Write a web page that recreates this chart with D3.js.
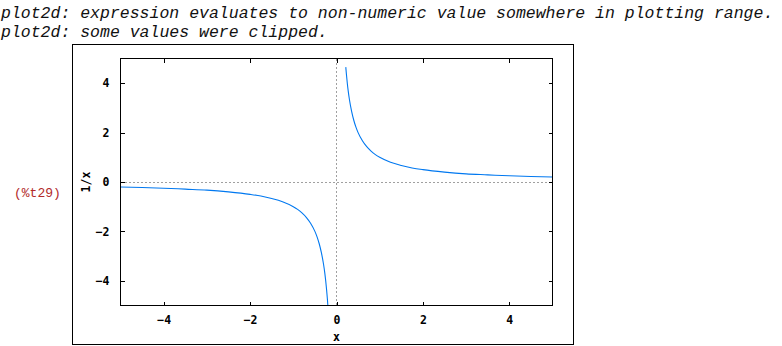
<!DOCTYPE html>
<html>
<head>
<meta charset="utf-8">
<script src="https://cdn.jsdelivr.net/npm/d3@7"></script>
<style>
  body { margin: 0; background: #fff; }
  svg { display: block; }
</style>
</head>
<body>
<div class="chart"></div>
<script>
// sizes
var width = 782;
var height = 346;

// messages shown above the plot
var messages = [
  "plot2d: expression evaluates to non-numeric value somewhere in plotting range.",
  "plot2d: some values were clipped."
];
var cellLabel = "(%t29)";

// axis ticks
var xTicks = [-4, -2, 0, 2, 4];
var yTicks = [-4, -2, 0, 2, 4];

// points, left branch (x < 0)
var leftX = [-5, -4.5, -4, -3.5, -3, -2.5, -2, -1.75, -1.5, -1.25, -1, -0.9, -0.8, -0.7, -0.6, -0.5, -0.45, -0.4, -0.35, -0.3, -0.27, -0.25, -0.23, -0.21, -0.2];
var leftY = [-0.2, -0.22, -0.25, -0.29, -0.33, -0.4, -0.5, -0.57, -0.67, -0.8, -1, -1.11, -1.25, -1.43, -1.67, -2, -2.22, -2.5, -2.86, -3.33, -3.7, -4, -4.35, -4.76, -5];

// right branch (x > 0)
var rightX = [0.215, 0.23, 0.25, 0.27, 0.3, 0.35, 0.4, 0.45, 0.5, 0.6, 0.7, 0.8, 0.9, 1, 1.25, 1.5, 1.75, 2, 2.5, 3, 3.5, 4, 4.5, 5];
var rightY = [4.65, 4.35, 4, 3.7, 3.33, 2.86, 2.5, 2.22, 2, 1.67, 1.43, 1.25, 1.11, 1, 0.8, 0.67, 0.57, 0.5, 0.4, 0.33, 0.29, 0.25, 0.22, 0.2];

var monoFont = "'DejaVu Sans Mono', monospace";

var svg = d3.select(".chart")
            .append("svg")
            .attr("width", width)
            .attr("height", height);

// top messages
svg.selectAll("text.msg")
   .data(messages)
   .enter()
   .append("text")
   .attr("class", "msg")
   .attr("x", 1)
   .attr("y", (d, i) => 18 + i * 19)
   .style("font-family", "'Liberation Mono', 'Courier New', monospace")
   .style("font-style", "italic")
   .style("font-size", "16.5px")
   .style("fill", "#111")
   .text(d => d);

svg.append("text")
   .attr("x", 14)
   .attr("y", 197)
   .style("font-family", "'Liberation Mono', 'Courier New', monospace")
   .style("font-size", "13px")
   .style("fill", "#b22a2a")
   .text(cellLabel);

// outer frame of the image
svg.append("rect")
   .attr("x", 72.5)
   .attr("y", 44.5)
   .attr("width", 501)
   .attr("height", 300)
   .attr("fill", "none")
   .attr("stroke", "#000")
   .attr("shape-rendering", "crispEdges");

// plot area (names avoid window.top)
var pLeft = 120.5, pRight = 552.5, pTop = 58.5, pBottom = 305.5;

var xScale = d3.scaleLinear().domain([-5, 5]).range([pLeft, pRight]);
var yScale = d3.scaleLinear().domain([-5, 5]).range([pBottom, pTop]);

var g = svg.append("g");

// zero lines
g.append("line")
 .attr("x1", xScale(0)).attr("x2", xScale(0))
 .attr("y1", pTop).attr("y2", pBottom)
 .attr("stroke", "#a0a0a0")
 .attr("stroke-dasharray", "2,2")
 .attr("shape-rendering", "crispEdges");
g.append("line")
 .attr("x1", pLeft).attr("x2", pRight)
 .attr("y1", yScale(0)).attr("y2", yScale(0))
 .attr("stroke", "#a0a0a0")
 .attr("stroke-dasharray", "2,2")
 .attr("shape-rendering", "crispEdges");

// curve
var line = d3.line()
             .x(d => xScale(d[0]))
             .y(d => yScale(d[1]))
             .curve(d3.curveMonotoneX);

var branches = [
  leftX.map((x, i) => [x, leftY[i]]),
  rightX.map((x, i) => [x, rightY[i]])
];

g.selectAll("path.curve")
 .data(branches)
 .enter()
 .append("path")
 .attr("class", "curve")
 .attr("d", line)
 .attr("fill", "none")
 .attr("stroke", "#0078f0")
 .attr("stroke-width", 1.1);

// axes, ticks inward on all four sides
var tickStyle = function(sel) {
  sel.select(".domain").remove();
  sel.selectAll(".tick line").attr("stroke", "#000").attr("shape-rendering", "crispEdges");
  sel.selectAll(".tick text")
     .style("font-family", monoFont)
     .style("font-weight", "bold")
     .style("font-size", "11.5px")
     .style("fill", "#000");
};

svg.append("g")
   .attr("id", "x-axis")
   .attr("transform", "translate(0," + pBottom + ")")
   .call(d3.axisBottom(xScale).tickValues(xTicks).tickSizeInner(-4).tickPadding(10).tickFormat(d3.format("d")))
   .call(tickStyle);

svg.append("g")
   .attr("transform", "translate(0," + pTop + ")")
   .call(d3.axisTop(xScale).tickValues(xTicks).tickSizeInner(-4).tickFormat(""))
   .call(tickStyle);

svg.append("g")
   .attr("id", "y-axis")
   .attr("transform", "translate(" + pLeft + ",0)")
   .call(d3.axisLeft(yScale).tickValues(yTicks).tickSizeInner(-4).tickPadding(11).tickFormat(d3.format("d")))
   .call(tickStyle);

svg.append("g")
   .attr("transform", "translate(" + pRight + ",0)")
   .call(d3.axisRight(yScale).tickValues(yTicks).tickSizeInner(-4).tickFormat(""))
   .call(tickStyle);

// plot border
svg.append("rect")
   .attr("x", pLeft)
   .attr("y", pTop)
   .attr("width", pRight - pLeft)
   .attr("height", pBottom - pTop)
   .attr("fill", "none")
   .attr("stroke", "#000")
   .attr("shape-rendering", "crispEdges");

// axis titles
svg.append("text")
   .attr("x", (pLeft + pRight) / 2)
   .attr("y", 341)
   .attr("text-anchor", "middle")
   .style("font-family", monoFont)
   .style("font-weight", "bold")
   .style("font-size", "11.5px")
   .text("x");

svg.append("text")
   .attr("transform", "translate(90," + yScale(0) + ") rotate(-90)")
   .attr("text-anchor", "middle")
   .style("font-family", monoFont)
   .style("font-weight", "bold")
   .style("font-size", "11.5px")
   .text("1/x");
</script>
</body>
</html>
